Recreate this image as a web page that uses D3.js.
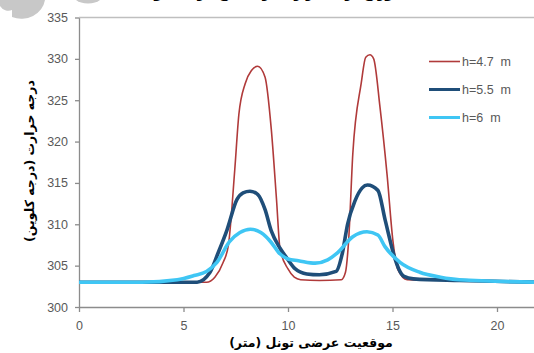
<!DOCTYPE html>
<html>
<head>
<meta charset="utf-8">
<script src="https://cdn.jsdelivr.net/npm/d3@7/dist/d3.min.js"></script>
<style>
  body { margin: 0; background: #fff; }
  svg { display: block; }
  .tick text { font-family: "Liberation Sans", Arial, sans-serif; font-size: 12.5px; fill: #595959; }
  .fa { font-family: "DejaVu Sans", sans-serif; font-weight: bold; fill: #000; }
</style>
</head>
<body>
<div class="chart"></div>
<script>
// position across tunnel (m) and temperature (K)
const h47 = [
  [0, 303.0], [3, 303.0], [6.1, 303.0], [6.5, 303.6], [6.9, 305.4], [7.15, 307.5],
  [7.45, 316.5], [7.65, 323.3], [7.95, 327.0], [8.25, 328.6], [8.55, 329.1], [8.9, 327.8],
  [9.2, 321.5], [9.45, 313.0], [9.62, 307.0], [10.0, 304.6], [10.3, 303.6], [10.6, 303.3],
  [11.5, 303.2], [12.55, 303.3], [12.75, 304.2], [12.9, 308.0], [13.1, 318.5], [13.5, 327.0],
  [13.72, 330.2], [13.92, 330.5], [14.1, 330.0], [14.4, 324.2], [14.74, 316.0], [15.02, 308.0],
  [15.26, 304.5], [15.7, 303.3], [18.2, 303.2], [22, 303.0]
];
const h55 = [
  [0, 303.0], [3, 303.0], [5.65, 303.0], [6.27, 304.2], [6.65, 306.5], [7.08, 309.3],
  [7.56, 313.0], [7.85, 313.8], [8.18, 314.0], [8.56, 313.6], [8.9, 311.8], [9.2, 309.2],
  [9.62, 307.1], [9.95, 305.9], [10.35, 304.6], [10.9, 304.0], [11.5, 303.9], [12.3, 304.3],
  [12.6, 306.5], [12.85, 310.0], [13.2, 312.8], [13.55, 314.4], [13.8, 314.75], [14.3, 314.1],
  [14.65, 310.5], [15.1, 306.0], [15.3, 304.6], [15.55, 303.7], [16.0, 303.4], [18.2, 303.2],
  [22, 303.0]
];
const h6 = [
  [0, 303.0], [3, 303.0], [4.7, 303.3], [5.5, 303.8], [6.1, 304.3], [6.6, 305.4],
  [7.2, 307.9], [7.7, 309.0], [8.2, 309.4], [8.7, 309.0], [9.2, 307.8], [9.55, 306.6],
  [10.0, 305.8], [10.5, 305.6], [11.3, 305.3], [11.9, 305.7], [12.35, 306.5], [13.1, 308.5],
  [13.78, 309.1], [14.3, 308.7], [14.64, 307.3], [15.36, 305.4], [16.3, 304.2], [17.3, 303.6],
  [18.2, 303.3], [22, 303.0]
];
const xTicks = [0, 5, 10, 15, 20];
const yTicks = [300, 305, 310, 315, 320, 325, 330, 335];
const seriesNames = ["h=4.7  m", "h=5.5  m", "h=6  m"];
const seriesData = [h47, h55, h6];
const seriesColors = ["#b03a3a", "#1f4e79", "#3fc6f4"];
const seriesWidths = [1.6, 3.6, 3.6];

const width = 534, height = 353;

const svg = d3.select(".chart").append("svg")
  .attr("width", width)
  .attr("height", height);

// watermark remains at the top-left
svg.append("path")
  .attr("d", "M0,0 L45,0 A24,22 0 0 1 12,17 L12,10 A10,10 0 0 1 0,6 Z")
  .attr("fill", "#c8c8c8");
svg.append("path")
  .attr("d", "M76,0 L100,0 A14,7 0 0 1 76,0 Z")
  .attr("fill", "#c8c8c8");

// title, cut off by the top edge as in the source image
svg.append("text")
  .attr("class", "fa")
  .attr("x", 268).attr("y", -2)
  .attr("text-anchor", "middle")
  .attr("direction", "rtl")
  .style("font-size", "13px")
  .text("توزیع درجه حرارت در مقطع عرضی تونل");

const x = d3.scaleLinear().domain([0, 22]).range([79, 79 + 22 * 20.9]);
const y = d3.scaleLinear().domain([300, 335]).range([307, 17.5]);

const xAxis = svg.append("g")
  .attr("transform", "translate(0,307)")
  .call(d3.axisBottom(x).tickValues(xTicks).tickSizeInner(5).tickSizeOuter(0).tickPadding(9));
const yAxis = svg.append("g")
  .attr("transform", "translate(79,0)")
  .call(d3.axisLeft(y).tickValues(yTicks).tickSizeInner(4).tickSizeOuter(0).tickPadding(7));

[xAxis, yAxis].forEach(g => {
  g.select(".domain").attr("stroke", "#8c8c8c").attr("stroke-width", 1.3);
  g.selectAll(".tick line").attr("stroke", "#8c8c8c").attr("stroke-width", 1.3);
});

// top border line at 335
svg.append("line")
  .attr("x1", 79).attr("x2", width)
  .attr("y1", y(335)).attr("y2", y(335))
  .attr("stroke", "#bfbfbf").attr("stroke-width", 1.3);

const line = d3.line()
  .x(d => x(d[0]))
  .y(d => y(d[1]))
  .curve(d3.curveMonotoneX);

const plot = svg.append("g");
[0, 1, 2].forEach(i => {
  plot.append("path")
    .datum(seriesData[i])
    .attr("fill", "none")
    .attr("stroke", seriesColors[i])
    .attr("stroke-width", seriesWidths[i])
    .attr("stroke-linejoin", "round")
    .attr("d", line);
});

// legend
const legend = svg.append("g");
seriesNames.forEach((name, i) => {
  const ly = 61.5 + i * 28;
  legend.append("line")
    .attr("x1", 429).attr("x2", 460)
    .attr("y1", ly).attr("y2", ly)
    .attr("stroke", seriesColors[i])
    .attr("stroke-width", seriesWidths[i] - (i ? 0.6 : 0));
  legend.append("text")
    .attr("x", 462).attr("y", ly + 4.5)
    .style("font-family", "Liberation Sans, Arial, sans-serif")
    .style("font-size", "12.5px")
    .style("white-space", "pre")
    .attr("fill", "#595959")
    .text(name);
});

// axis titles
svg.append("text")
  .attr("class", "fa")
  .attr("transform", "translate(34,161) rotate(-90)")
  .attr("text-anchor", "middle")
  .attr("direction", "rtl")
  .style("font-size", "12.5px")
  .text("درجه حرارت (درجه کلوین)");

svg.append("text")
  .attr("class", "fa")
  .attr("x", 311).attr("y", 347)
  .attr("text-anchor", "middle")
  .attr("direction", "rtl")
  .style("font-size", "12.5px")
  .text("موقعیت عرضی تونل (متر)");
</script>
</body>
</html>
